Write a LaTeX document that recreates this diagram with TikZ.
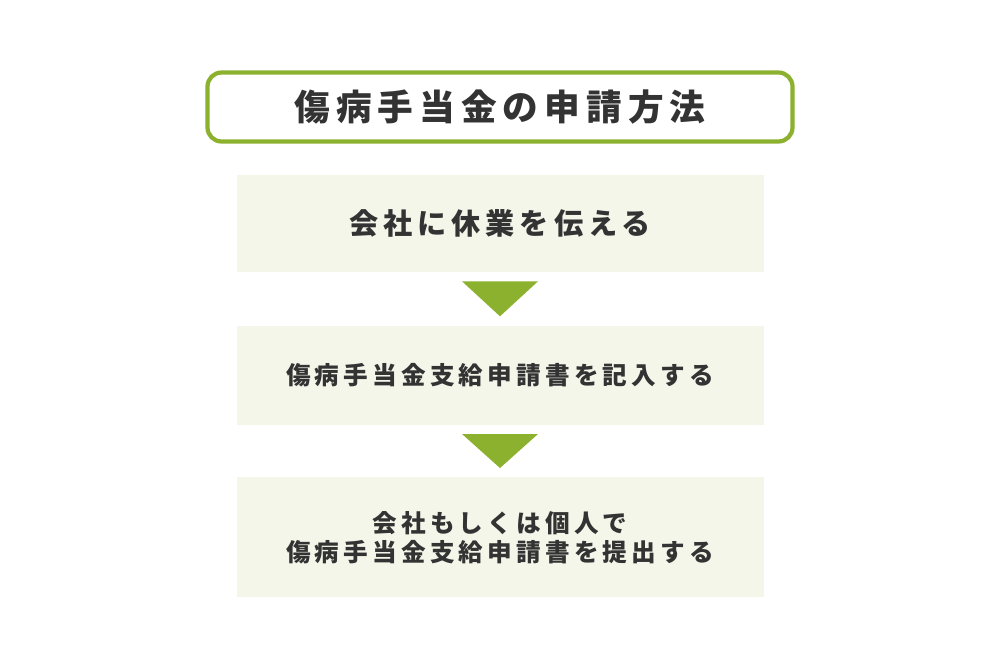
\documentclass[tikz,border=0pt]{standalone}
\usepackage{fontspec}
\usepackage{tikz}
\usetikzlibrary{positioning,calc}
\newfontfamily\jpfont{Noto Sans CJK JP}[LetterSpace=17]
\definecolor{leafgreen}{HTML}{8CB12E}
\definecolor{paleback}{HTML}{F4F6EA}
\definecolor{inkgray}{HTML}{333333}
\tikzstyle{titlebox}=[draw=leafgreen,line width=2.4pt,rounded corners=8pt,fill=white,minimum width=11.7cm,minimum height=1.38cm,inner sep=0pt,text=inkgray,font=\jpfont\bfseries\fontsize{20.3}{24}\selectfont]
\tikzstyle{stepbox}=[fill=paleback,minimum width=10.54cm,inner sep=0pt,text=inkgray,align=center]
\tikzstyle{downmark}=[fill=leafgreen]

\begin{document}
\begin{tikzpicture}
\useasboundingbox (0,0) rectangle (20,-13.34);
\node [titlebox] (title) at (10,-2.14) {傷病手当金の申請方法};
\node [stepbox, minimum height=1.94cm, below=0.62cm of title, font=\jpfont\bfseries\fontsize{16.6}{20}\selectfont] (s1) {会社に休業を伝える};
\node [stepbox, minimum height=1.98cm, below=1.06cm of s1, font=\jpfont\bfseries\fontsize{14}{16.6}\selectfont] (s2) {傷病手当金支給申請書を記入する};
\node [stepbox, minimum height=2.4cm, below=1.04cm of s2, font=\jpfont\bfseries\fontsize{14}{16.6}\selectfont] (s3) {会社もしくは個人で\\傷病手当金支給申請書を提出する};
% arrows between the steps
\fill [downmark] ($(s1.south)+(-0.76,-0.18)$) -- ($(s1.south)+(0.76,-0.18)$) -- ($(s2.north)+(0,0.18)$) -- cycle;
\fill [downmark] ($(s2.south)+(-0.76,-0.18)$) -- ($(s2.south)+(0.76,-0.18)$) -- ($(s3.north)+(0,0.18)$) -- cycle;
\end{tikzpicture}
\end{document}
